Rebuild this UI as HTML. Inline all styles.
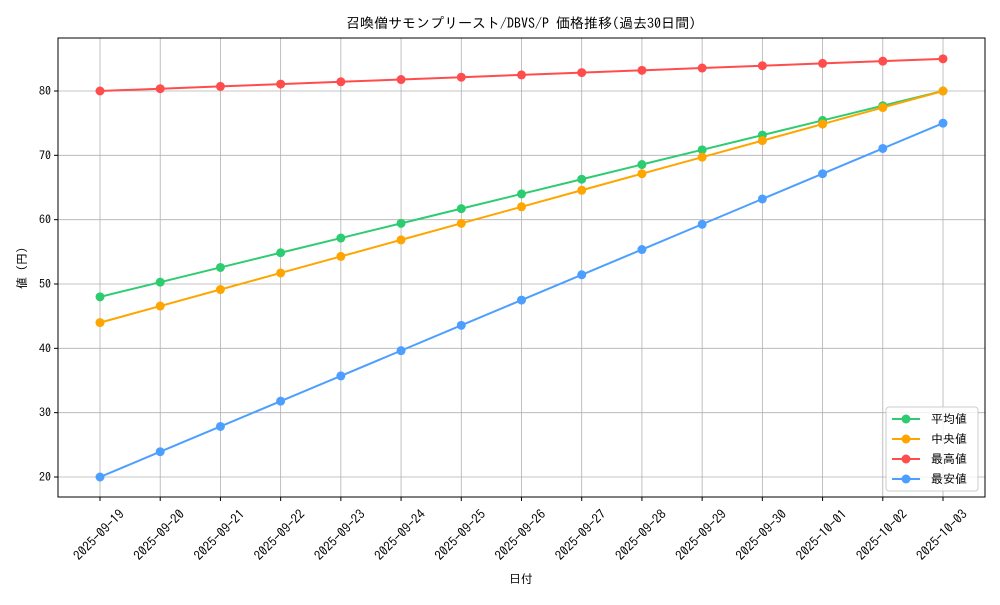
<!DOCTYPE html>
<html><head><meta charset="utf-8"><style>
html,body{margin:0;padding:0;background:#fff;}
svg text{font-family:"IPAGothic","Liberation Sans","Noto Sans CJK JP",sans-serif;}
</style></head><body>
<svg id="c" width="1000" height="600" xmlns="http://www.w3.org/2000/svg"></svg>
<script>
const s=document.getElementById('c');
let h='';
const L=58,R=985,T=38,B=497;
const X=i=>100+i*843/14, Y=v=>477-(v-20)*386/60;
h+=`<rect x="0" y="0" width="1000" height="600" fill="#fff"/>`;
const dates=['2025-09-19','2025-09-20','2025-09-21','2025-09-22','2025-09-23','2025-09-24','2025-09-25','2025-09-26','2025-09-27','2025-09-28','2025-09-29','2025-09-30','2025-10-01','2025-10-02','2025-10-03'];
for(let i=0;i<15;i++){const x=X(i);h+=`<line x1="${x}" y1="${T}" x2="${x}" y2="${B}" stroke="#b0b0b0" stroke-width="0.8"/>`;
h+=`<line x1="${x}" y1="${B}" x2="${x}" y2="${B+4}" stroke="#000"/>`;
h+=`<text transform="translate(${x+25},${B+18}) rotate(-45)" text-anchor="end" font-size="13">${dates[i]}</text>`;}
for(let v=20;v<=80;v+=10){const y=Y(v);h+=`<line x1="${L}" y1="${y}" x2="${R}" y2="${y}" stroke="#b0b0b0" stroke-width="0.8"/>`;
h+=`<line x1="${L-4}" y1="${y}" x2="${L}" y2="${y}" stroke="#000"/>`;
h+=`<text x="${L-7}" y="${y+4}" text-anchor="end" font-size="12">${v}</text>`;}
const ser=[['#2ecc71',48,80],['#ffa500',44,80],['#ff4d4d',80,85],['#4d9fff',20,75]];
for(const [c,a,b] of ser){let p=[];for(let i=0;i<15;i++)p.push(X(i)+','+Y(a+(b-a)*i/14));
h+=`<polyline points="${p.join(' ')}" fill="none" stroke="${c}" stroke-width="2"/>`;
for(const q of p){const [x,y]=q.split(',');h+=`<circle cx="${x}" cy="${y}" r="4.5" fill="${c}"/>`;}}
h+=`<rect x="${L}" y="${T}" width="${R-L}" height="${B-T}" fill="none" stroke="#000" stroke-width="1"/>`;
h+=`<text x="521" y="28" text-anchor="middle" font-size="14">召喚僧サモンプリースト/DBVS/P 価格推移(過去30日間)</text>`;
h+=`<text x="521" y="583" text-anchor="middle" font-size="12">日付</text>`;
h+=`<text transform="translate(26,268) rotate(-90)" text-anchor="middle" font-size="12">値 (円)</text>`;
h+=`<rect x="886" y="407" width="92" height="84" rx="3" fill="#fff" fill-opacity="0.8" stroke="#ccc"/>`;
const lg=[['#2ecc71','平均値'],['#ffa500','中央値'],['#ff4d4d','最高値'],['#4d9fff','最安値']];
lg.forEach(([c,t],i)=>{const y=419+i*20;h+=`<line x1="892" y1="${y}" x2="920" y2="${y}" stroke="${c}" stroke-width="2"/><circle cx="906" cy="${y}" r="4.5" fill="${c}"/><text x="931" y="${y+4}" font-size="12">${t}</text>`;});
s.innerHTML=h;
</script>
</body></html>
